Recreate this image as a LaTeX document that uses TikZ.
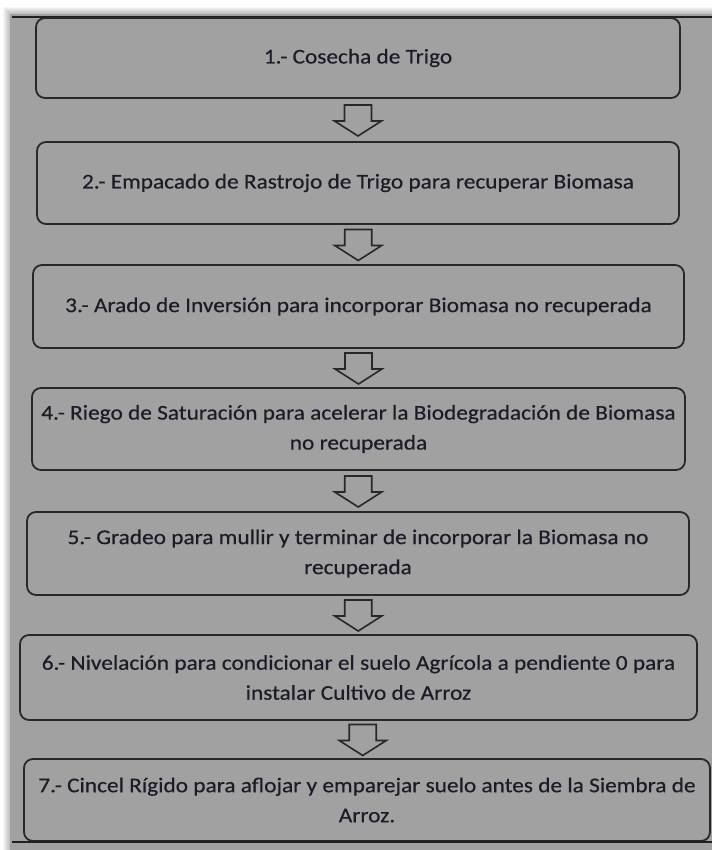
\documentclass[tikz,border=0pt]{standalone}
\usepackage{fontspec}
\setmainfont{Carlito}[FakeStretch=1.11, FakeBold=0.4]
\usetikzlibrary{calc}
\definecolor{bggray}{RGB}{161,161,161}
\definecolor{edge}{RGB}{40,40,40}
\definecolor{ink}{RGB}{28,28,40}
\tikzset{
  stepbox/.style={draw=edge, line width=1.8pt, rounded corners=9pt, fill=bggray,
    align=center, text=ink, font=\fontsize{21}{30}\selectfont, inner sep=0pt},
  blockarrow/.style={draw=edge, line width=1.6pt, fill=bggray, line join=miter},
  frameline/.style={draw=edge!80!black, line width=1.6pt}
}
\newcommand{\downarrowblock}[2]{%
  \draw[blockarrow] ($(#1.south)!0.5!(#2.north)$) ++(-13.5,-15) -- ++(27,0) -- ++(0,16)
    -- ++(10,0) -- ++(-23.5,15) -- ++(-23.5,-15) -- ++(10,0) -- cycle;}
\begin{document}
\begin{tikzpicture}[x=1pt,y=-1pt]
\useasboundingbox (0,0) rectangle (712,850);
\fill[white] (0,0) rectangle (712,850);
% soft shadow around the grey panel
\foreach \i in {1,...,7}{
  \fill[black,opacity=0.035] ({10-\i},{14-\i}) rectangle (712,850);
}
\fill[bggray] (10,14) rectangle (712,850);
\draw[frameline] (12,17) -- (712,17);
% boxes
\node[stepbox, minimum width=644pt, minimum height=80pt] (b1) at (358,58)
  {1.- Cosecha de Trigo};
\node[stepbox, minimum width=642pt, minimum height=82pt] (b2) at (358,183)
  {2.- Empacado de Rastrojo de Trigo para recuperar Biomasa};
\node[stepbox, minimum width=651pt, minimum height=83pt] (b3) at (358.5,306.5)
  {3.- Arado de Inversión para incorporar Biomasa no recuperada};
\node[stepbox, minimum width=653pt, minimum height=82pt] (b4) at (358.5,429)
  {4.- Riego de Saturación para acelerar la Biodegradación de Biomasa\\no recuperada};
\node[stepbox, minimum width=662pt, minimum height=83pt] (b5) at (358,553.5)
  {5.- Gradeo para mullir y terminar de incorporar la Biomasa no\\recuperada};
\node[stepbox, minimum width=677pt, minimum height=85pt] (b6) at (358.5,677.5)
  {6.- Nivelación para condicionar el suelo Agrícola a pendiente 0 para\\instalar Cultivo de Arroz};
\node[stepbox, minimum width=686pt, minimum height=82pt] (b7) at (367,800)
  {7.- Cincel Rígido para aflojar y emparejar suelo antes de la Siembra de\\Arroz.};
% block arrows
\downarrowblock{b1}{b2}
\downarrowblock{b2}{b3}
\downarrowblock{b3}{b4}
\downarrowblock{b4}{b5}
\downarrowblock{b5}{b6}
\downarrowblock{b6}{b7}
\draw[frameline] (12,842) -- (712,842);
\end{tikzpicture}
\end{document}
